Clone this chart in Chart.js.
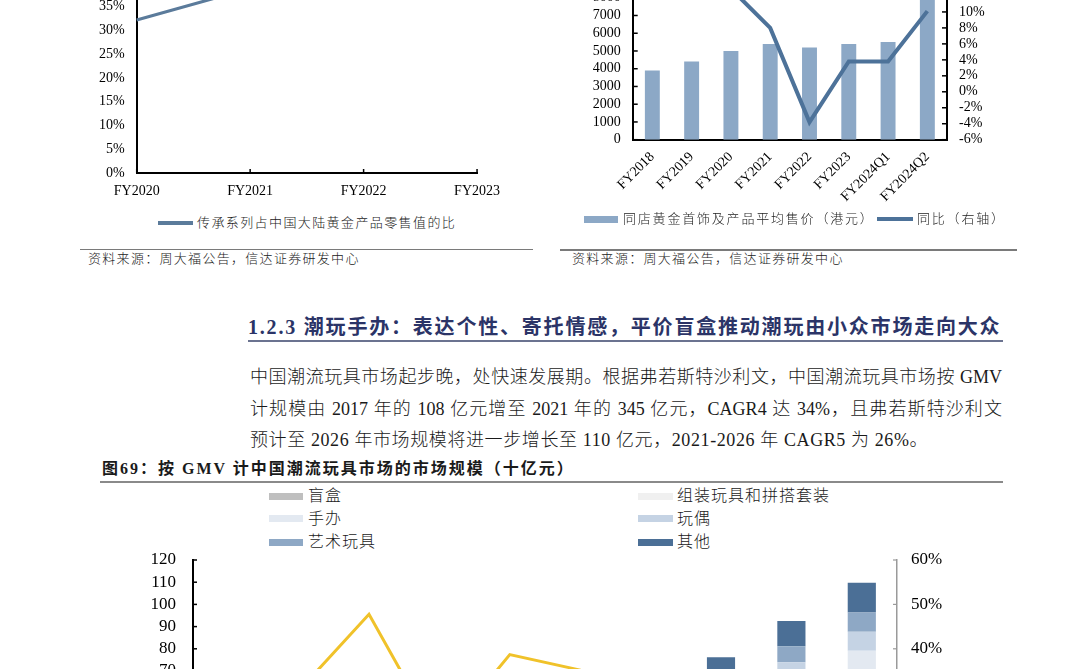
<!DOCTYPE html>
<html>
<head>
<meta charset="utf-8">
<script src="https://cdn.jsdelivr.net/npm/chart.js@4.4.1/dist/chart.umd.min.js"></script>
<style>
html, body { margin: 0; padding: 0; }
body {
    width: 1080px; height: 669px; overflow: hidden; position: relative; background: #fff;
    font-family: "Liberation Serif", "Noto Sans CJK SC", serif; color: #1a1a1a;
}
.abs { position: absolute; white-space: nowrap; }
canvas { position: absolute; }
.cjk { font-family: "Liberation Serif", "Noto Sans CJK SC", serif; font-weight: 300; }
.sw { position: absolute; }
.legtxt { font-size: 13px; letter-spacing: 1.4px; line-height: 20px; }
.src { font-size: 13px; letter-spacing: 1.3px; line-height: 18px; color: #222; }
.sep { position: absolute; height: 1.5px; background: #7a7a7a; }
.para { font-size: 18px; line-height: 24px; width: 752px; left: 250px; }
.bleg { font-size: 16px; letter-spacing: 1px; line-height: 22px; }
</style>
</head>
<body>

<!-- top left chart -->
<canvas id="cLeft" width="430" height="269" style="left:80px; top:-66px;"></canvas>
<div class="sw" style="left:158px; top:221px; width:35px; height:4px; background:#5b7b9b;"></div>
<div class="abs cjk legtxt" style="left:197px; top:213px;">传承系列占中国大陆黄金产品零售值的比</div>
<div class="sep" style="left:80px; top:248.5px; width:453px;"></div>
<div class="abs cjk src" style="left:88px; top:249.5px;">资料来源：周大福公告，信达证券研发中心</div>

<!-- top right chart -->
<canvas id="cRight" width="480" height="260" style="left:560px; top:-45px;"></canvas>
<div class="sw" style="left:584px; top:215.5px; width:34px; height:7.5px; background:#8ca8c6;"></div>
<div class="abs cjk legtxt" style="left:623px; top:209px; letter-spacing:1.8px;">同店黄金首饰及产品平均售价（港元）</div>
<div class="sw" style="left:877px; top:217px; width:36px; height:4px; background:#4d7299;"></div>
<div class="abs cjk legtxt" style="left:917px; top:209px; letter-spacing:1.8px;">同比（右轴）</div>
<div class="sep" style="left:560px; top:249px; width:457px;"></div>
<div class="abs cjk src" style="left:572px; top:249.5px;">资料来源：周大福公告，信达证券研发中心</div>

<!-- section text -->
<div class="abs" style="left:248px; top:314px; font-size:20px; line-height:26px; font-weight:bold; letter-spacing:1.8px; color:#2b3467;">1.2.3 潮玩手办：表达个性、寄托情感，平价盲盒推动潮玩由小众市场走向大众</div>
<div class="sw" style="left:248px; top:340px; width:755px; height:2px; background:#6b7390;"></div>

<div class="abs cjk para" style="top:365px; text-align:justify; text-align-last:justify;">中国潮流玩具市场起步晚，处快速发展期。根据弗若斯特沙利文，中国潮流玩具市场按 GMV</div>
<div class="abs cjk para" style="top:396.5px; text-align:justify; text-align-last:justify;">计规模由 2017 年的 108 亿元增至 2021 年的 345 亿元，CAGR4 达 34%，且弗若斯特沙利文</div>
<div class="abs cjk para" style="top:428px; letter-spacing:0.6px;">预计至 2026 年市场规模将进一步增长至 110 亿元，2021-2026 年 CAGR5 为 26%。</div>

<div class="abs" style="left:102px; top:458px; font-size:16px; line-height:22px; font-weight:bold; letter-spacing:2px;">图69：按 GMV 计中国潮流玩具市场的市场规模（十亿元）</div>
<div class="sw" style="left:100px; top:480.5px; width:903px; height:2px; background:#8a8a8a;"></div>

<!-- bottom chart legend -->
<div class="sw" style="left:269px; top:492.5px; width:34px; height:7px; background:#bfbfbf;"></div>
<div class="abs cjk bleg" style="left:308px; top:485px;">盲盒</div>
<div class="sw" style="left:269px; top:515px; width:34px; height:7px; background:#e3e9f1;"></div>
<div class="abs cjk bleg" style="left:308px; top:507.5px;">手办</div>
<div class="sw" style="left:269px; top:538.5px; width:34px; height:7px; background:#8ea8c5;"></div>
<div class="abs cjk bleg" style="left:308px; top:531px;">艺术玩具</div>
<div class="sw" style="left:638px; top:492.5px; width:35px; height:7px; background:#f0f0f0;"></div>
<div class="abs cjk bleg" style="left:677px; top:485px;">组装玩具和拼搭套装</div>
<div class="sw" style="left:638px; top:515px; width:35px; height:7px; background:#c5d3e4;"></div>
<div class="abs cjk bleg" style="left:677px; top:507.5px;">玩偶</div>
<div class="sw" style="left:638px; top:538.5px; width:35px; height:7px; background:#4b6f96;"></div>
<div class="abs cjk bleg" style="left:677px; top:531px;">其他</div>

<canvas id="cBottom" width="880" height="336" style="left:100px; top:530px;"></canvas>

<script>
// ---- data: top left (传承系列占比) ----
const leftCats = ['FY2020', 'FY2021', 'FY2022', 'FY2023'];
const leftShare = [32.2, 38.9, 40.6, 42.8];

// ---- data: top right (同店平均售价 + 同比) ----
const rightCats = ['FY2018', 'FY2019', 'FY2020', 'FY2021', 'FY2022', 'FY2023', 'FY2024Q1', 'FY2024Q2'];
const rightPrice = [3900, 4400, 5000, 5400, 5200, 5400, 5500, 8300];
const rightYoy = [13.0, 12.8, 12.9, 8.0, -3.8, 3.8, 3.8, 10.1];

// ---- data: bottom (潮流玩具市场规模, 十亿元) ----
const toyYears = ['2017', '2018', '2019', '2020', '2021', '2022E', '2023E', '2024E', '2025E', '2026E'];
const toyBlindBox = [4.1, 5.3, 8.1, 9.8, 13.6, 18.8, 24.3, 31.4, 37.9, 45.0];
const toyAssembly = [2.2, 2.9, 4.2, 5.0, 7.0, 9.4, 12.0, 15.5, 19.0, 22.0];
const toyFigure = [1.2, 1.6, 2.4, 2.8, 3.9, 5.2, 6.6, 8.2, 10.0, 12.1];
const toyDoll = [0.8, 1.1, 1.6, 1.9, 2.6, 3.4, 4.4, 5.6, 7.0, 8.6];
const toyArt = [0.9, 1.2, 1.7, 2.0, 2.8, 3.8, 4.8, 6.0, 7.3, 8.6];
const toyOther = [1.6, 2.0, 2.9, 3.4, 4.6, 6.0, 7.5, 9.5, 11.3, 13.5];
const toyGrowth = [null, 30.5, 47.8, 19.5, 38.7, 35.2, 28.0, 27.8, 21.4, 18.9];

Chart.defaults.font.family = '"Liberation Serif", "Noto Sans CJK SC", serif';
Chart.defaults.font.size = 14;
Chart.defaults.color = '#111';

// short tick marks drawn on the inner side of an axis
const innerTicks = {
    id: 'innerTicks',
    afterDatasetsDraw(chart, args, opts) {
        const ctx = chart.ctx;
        (opts.scales || []).forEach(s => {
            const sc = chart.scales[s.id];
            ctx.save();
            ctx.strokeStyle = s.color;
            ctx.lineWidth = s.width;
            sc.ticks.forEach((t, i) => {
                const p = sc.getPixelForTick(i);
                ctx.beginPath();
                if (sc.axis === 'y') {
                    const x = sc.position === 'left' ? sc.right : sc.left;
                    ctx.moveTo(x, p);
                    ctx.lineTo(x + (sc.position === 'left' ? s.len : -s.len), p);
                } else {
                    ctx.moveTo(p, sc.top);
                    ctx.lineTo(p, sc.top - s.len);
                }
                ctx.stroke();
            });
            ctx.restore();
        });
    }
};

const pct = v => v + '%';
const plain = v => String(v);
const noGrid = { display: false, drawTicks: false };

// 1. top left line chart
new Chart(document.getElementById('cLeft'), {
    type: 'line',
    data: {
        labels: leftCats,
        datasets: [{ data: leftShare, borderColor: '#5b7b9b', borderWidth: 3, pointRadius: 0, tension: 0 }]
    },
    options: {
        responsive: false, animation: false,
        layout: { padding: { top: 25.25, right: 30 } },
        plugins: {
            legend: { display: false }, tooltip: { enabled: false },
            innerTicks: { scales: [{ id: 'x', len: 4, color: '#000', width: 1.5 }] }
        },
        scales: {
            x: {
                offset: false, grid: noGrid,
                border: { display: true, color: '#000', width: 2 },
                ticks: { padding: 10, color: '#000' },
                afterFit: s => { s.height = 30; }
            },
            y: {
                min: 0, max: 45, grid: noGrid,
                border: { display: true, color: '#000', width: 2 },
                ticks: { stepSize: 5, autoSkip: false, callback: pct, padding: 12, color: '#000' },
                afterFit: s => { s.width = 56.7; }
            }
        }
    },
    plugins: [innerTicks]
});

// 2. top right bar + line chart
new Chart(document.getElementById('cRight'), {
    type: 'bar',
    data: {
        labels: rightCats,
        datasets: [
            { type: 'line', data: rightYoy, yAxisID: 'y1', borderColor: '#4d7299', borderWidth: 4, pointRadius: 0, tension: 0, order: 0 },
            { type: 'bar', data: rightPrice, yAxisID: 'y', backgroundColor: '#8ca8c6', barPercentage: 0.38, categoryPercentage: 1, order: 1 }
        ]
    },
    options: {
        responsive: false, animation: false,
        layout: { padding: { top: 25 } },
        plugins: {
            legend: { display: false }, tooltip: { enabled: false },
            innerTicks: { scales: [
                { id: 'y', len: 5, color: '#000', width: 1.5 },
                { id: 'y1', len: 5, color: '#000', width: 1.5 }
            ] }
        },
        scales: {
            x: {
                grid: noGrid,
                border: { display: true, color: '#000', width: 2 },
                ticks: { maxRotation: 45, minRotation: 45, autoSkip: false, padding: 9, color: '#000' },
                afterFit: s => { s.height = 75.3; }
            },
            y: {
                position: 'left', min: 0, max: 9000, grid: noGrid,
                border: { display: true, color: '#000', width: 2 },
                ticks: { stepSize: 1000, autoSkip: false, callback: plain, padding: 12, color: '#000' },
                afterFit: s => { s.width = 72.7; }
            },
            y1: {
                position: 'right', min: -6, max: 14, grid: noGrid,
                border: { display: true, color: '#000', width: 2 },
                ticks: { stepSize: 2, autoSkip: false, callback: pct, padding: 12, color: '#000' },
                afterFit: s => { s.width = 93; }
            }
        }
    },
    plugins: [innerTicks]
});

// 3. bottom stacked bars + growth line
const stackBar = (data, color) => ({
    type: 'bar', data, yAxisID: 'y', backgroundColor: color,
    barPercentage: 0.4, categoryPercentage: 1, order: 1
});
new Chart(document.getElementById('cBottom'), {
    type: 'bar',
    data: {
        labels: toyYears,
        datasets: [
            { type: 'line', data: toyGrowth, yAxisID: 'y1', borderColor: '#f0c22a', borderWidth: 3, pointRadius: 0, tension: 0, order: 0 },
            stackBar(toyBlindBox, '#bfbfbf'),
            stackBar(toyAssembly, '#f0f0f0'),
            stackBar(toyFigure, '#e3e9f1'),
            stackBar(toyDoll, '#c5d3e4'),
            stackBar(toyArt, '#8ea8c5'),
            stackBar(toyOther, '#4b6f96')
        ]
    },
    options: {
        responsive: false, animation: false,
        layout: { padding: { top: 30 } },
        plugins: {
            legend: { display: false }, tooltip: { enabled: false },
            innerTicks: { scales: [
                { id: 'y', len: 4, color: '#000', width: 1.5 },
                { id: 'y1', len: 4, color: '#9a9a9a', width: 1.2 }
            ] }
        },
        scales: {
            x: {
                stacked: true, grid: noGrid,
                border: { display: true, color: '#000', width: 2 },
                ticks: { font: { size: 17 }, color: '#000' },
                afterFit: s => { s.height = 39.6; }
            },
            y: {
                stacked: true, position: 'left', min: 0, max: 120, grid: noGrid,
                border: { display: true, color: '#000', width: 2 },
                ticks: { stepSize: 10, autoSkip: false, padding: 17, font: { size: 17 }, color: '#000' },
                afterFit: s => { s.width = 93; }
            },
            y1: {
                position: 'right', min: 0, max: 60, grid: noGrid,
                border: { display: true, color: '#9a9a9a', width: 1.5 },
                ticks: { stepSize: 10, autoSkip: false, callback: pct, padding: 14, font: { size: 17 }, color: '#000' },
                afterFit: s => { s.width = 83; }
            }
        }
    },
    plugins: [innerTicks]
});
</script>
</body>
</html>
